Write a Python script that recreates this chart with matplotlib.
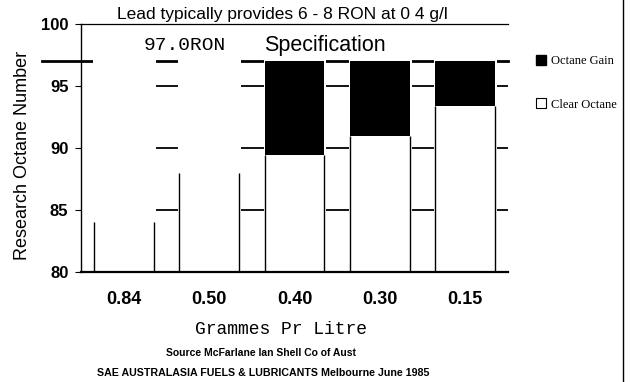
import numpy as np
import matplotlib
matplotlib.use("Agg")
import matplotlib.pyplot as plt
from matplotlib.patches import Patch
from matplotlib.lines import Line2D

# Lead content categories and research octane numbers
categories = ["0.84", "0.50", "0.40", "0.30", "0.15"]
clear_octane = [84.0, 88.0, 89.4, 91.0, 93.4]
octane_gain = [0.0, 0.0, 7.6, 6.0, 3.6]
spec_ron = 97.0
y_ticks = [80, 85, 90, 95, 100]
y_tick_labels = ["80", "85", "90", "95", "100"]

SANS = "Liberation Sans"
MONO = "Liberation Mono"
SERIF = "Liberation Serif"

fig = plt.figure(figsize=(6.32, 3.82), dpi=100)
fig.patch.set_facecolor("white")
ax = fig.add_axes([81 / 632, 1 - 272 / 382, 427 / 632, 248 / 382])

x = np.arange(len(categories))
clear = np.array(clear_octane)
gain = np.array(octane_gain)
w = 0.7
x_right = len(categories) - 0.5

ax.set_xlim(-0.5, x_right)
ax.set_ylim(y_ticks[0], y_ticks[-1])

# horizontal grid lines, starting at the first bar
ax.hlines(y_ticks[1:-1], x[0] - w / 2, x_right, color="black", lw=1.3, zorder=0.5)

# specification line, running out past the axis on the left
ax.plot([-0.96, x_right], [spec_ron, spec_ron], color="black",
        lw=2.0, clip_on=False, zorder=1)

# white columns up to the specification level hide the grid behind each bar
ax.bar(x, spec_ron - y_ticks[0], bottom=y_ticks[0], width=w, color="white",
       edgecolor="white", lw=2.2, zorder=2)

# clear octane (white) with side outlines, octane gain (black) on top
ax.bar(x, clear - y_ticks[0], bottom=y_ticks[0], width=w, color="white", zorder=3)
ax.vlines(np.concatenate([x - w / 2, x + w / 2]), y_ticks[0], np.tile(clear, 2),
          color="black", lw=1.0, zorder=4)
ax.bar(x, gain, bottom=clear, width=w, color="black", zorder=4)

# spines
ax.spines["right"].set_visible(False)
ax.spines["top"].set_linewidth(0.9)
ax.spines["left"].set_linewidth(1.0)
ax.spines["bottom"].set_linewidth(1.6)
for s in ax.spines.values():
    s.set_zorder(5)

ax.set_yticks(y_ticks)
ax.set_yticklabels(y_tick_labels, fontfamily=SANS, fontweight="bold", fontsize=12)
ax.tick_params(axis="y", direction="out", length=4, width=0.8, pad=5)
ax.set_xticks(x)
ax.set_xticklabels(categories, fontfamily=SANS, fontweight="bold", fontsize=13)
ax.tick_params(axis="x", length=0, pad=14)

# in-plot annotations above the specification line
ax.text(0.72, 98.3, "97.0RON", fontfamily=MONO, fontsize=14, ha="center", va="center")
ax.text(2.35, 98.3, "Specification", fontfamily=SANS, fontsize=15.5, ha="center", va="center")

# title sitting on the top line
fig.text(282 / 632, 1 - 19 / 382, "Lead typically provides 6 - 8 RON at 0 4 g/l",
         fontfamily=SANS, fontsize=12.5, ha="center", va="baseline")

# axis titles
fig.text(23 / 632, 1 - 155 / 382, "Research Octane Number", fontfamily=SANS,
         fontsize=13, rotation=90, ha="center", va="center")
fig.text(281 / 632, 1 - 329 / 382, "Grammes Pr Litre", fontfamily=MONO,
         fontsize=13, ha="center", va="center")

# source notes
fig.text(261 / 632, 1 - 353 / 382, "Source McFarlane Ian Shell Co of Aust",
         fontfamily=SANS, fontweight="bold", fontsize=7.5, ha="center", va="center")
fig.text(263 / 632, 1 - 373 / 382,
         "SAE AUSTRALASIA FUELS & LUBRICANTS Melbourne June 1985",
         fontfamily=SANS, fontweight="bold", fontsize=7.7, ha="center", va="center")

# legend
handles = [Patch(facecolor="black", edgecolor="black"),
           Patch(facecolor="white", edgecolor="black", lw=0.8)]
ax.legend(handles, ["Octane Gain", "Clear Octane"], loc="upper left",
          bbox_to_anchor=(536 / 632, 1 - 55 / 382), bbox_transform=fig.transFigure,
          frameon=False, prop={"family": SERIF, "size": 9}, handlelength=0.8,
          handleheight=0.8, handletextpad=0.4, labelspacing=2.5, borderpad=0,
          borderaxespad=0)

# page border on the right
fig.add_artist(Line2D([623 / 632, 623 / 632], [0, 1], color="black", lw=1.0))

fig.savefig("out.png", dpi=100, facecolor="white")
